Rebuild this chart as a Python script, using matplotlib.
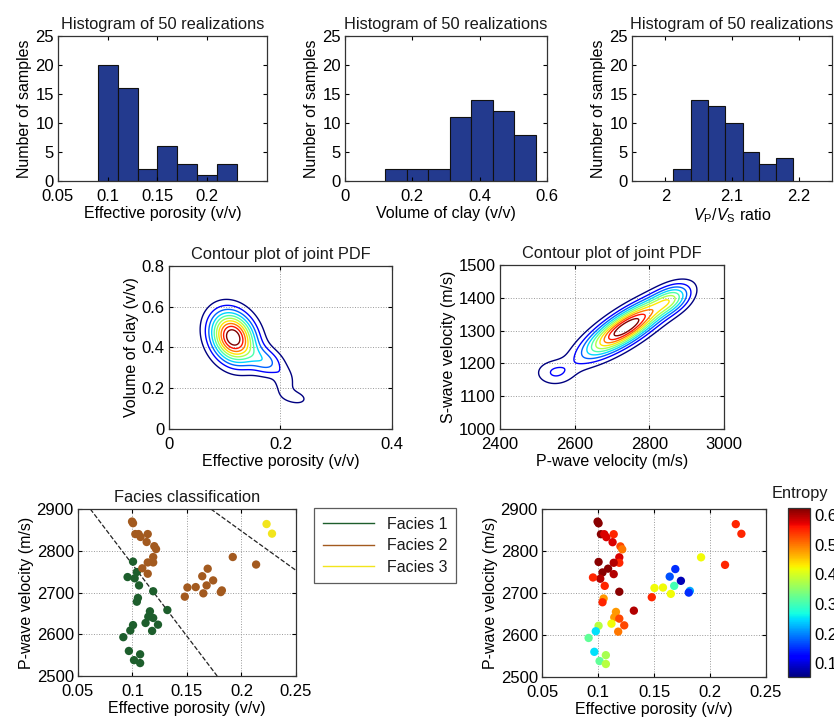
"""
Realization histograms, joint PDF contours and facies classification panels.
"""

import numpy as np
import matplotlib
matplotlib.use('Agg')
import matplotlib.pyplot as plt
import matplotlib.ticker as mticker
from matplotlib.lines import Line2D

plt.rcParams['font.family'] = ['Liberation Sans', 'DejaVu Sans']
plt.rcParams['font.size'] = 11
plt.rcParams['mathtext.fontset'] = 'custom'
plt.rcParams['mathtext.rm'] = 'Liberation Sans'
plt.rcParams['mathtext.it'] = 'Liberation Sans:italic'
plt.rcParams['axes.linewidth'] = 0.9
plt.rcParams['axes.edgecolor'] = '#333333'
plt.rcParams['xtick.direction'] = 'in'
plt.rcParams['ytick.direction'] = 'in'
plt.rcParams['xtick.top'] = True
plt.rcParams['ytick.right'] = True
plt.rcParams['xtick.major.size'] = 3
plt.rcParams['ytick.major.size'] = 3
plt.rcParams['xtick.major.pad'] = 5.5
plt.rcParams['ytick.major.pad'] = 3
plt.rcParams['xtick.labelsize'] = 12
plt.rcParams['ytick.labelsize'] = 12
plt.rcParams['text.color'] = '#1a1a1a'

# ---- histogram data (bin edges and counts)
por_edges = [0.09, 0.11, 0.13, 0.15, 0.17, 0.19, 0.21, 0.23]
por_counts = [20, 16, 2, 6, 3, 1, 3]
clay_edges = [0.119, 0.183, 0.247, 0.311, 0.375, 0.439, 0.503, 0.567]
clay_counts = [2, 2, 2, 11, 14, 12, 8]
vpvs_edges = [2.011, 2.038, 2.064, 2.090, 2.116, 2.141, 2.166, 2.192]
vpvs_counts = [2, 14, 13, 10, 5, 3, 4]

# ---- joint PDF described as gaussian components: (mean x, mean y, sd x, sd y, rho, weight)
pdf1_mx = [0.115, 0.175, 0.208, 0.226]
pdf1_my = [0.450, 0.330, 0.225, 0.155]
pdf1_sx = [0.027, 0.022, 0.012, 0.016]
pdf1_sy = [0.085, 0.050, 0.045, 0.025]
pdf1_rho = [-0.2, -0.3, 0.0, -0.3]
pdf1_w = [1.0, 0.28, 0.15, 0.15]

pdf2_mx = [2738, 2860, 2545]
pdf2_my = [1310, 1395, 1172]
pdf2_sx = [74, 35, 36]
pdf2_sy = [59, 31, 27]
pdf2_rho = [0.81, 0.42, 0.0]
pdf2_w = [1.0, 0.35, 0.165]

# ---- classification scatter (50 samples)
porosity = [0.0996, 0.1005, 0.1026, 0.1056, 0.1074, 0.1140, 0.1130, 0.1200, 0.1216, 0.1190,
            0.1190, 0.1005, 0.1140, 0.1090, 0.1040, 0.1140, 0.1020, 0.0955, 0.1060, 0.1190,
            0.1050, 0.1040, 0.1320, 0.1160, 0.1145, 0.1190, 0.1120, 0.1234, 0.1005, 0.0980,
            0.1180, 0.0916, 0.0967, 0.1070, 0.1014, 0.1070, 0.1480, 0.1504, 0.1580, 0.1640,
            0.1690, 0.1680, 0.1650, 0.1740, 0.1820, 0.1810, 0.1920, 0.2134, 0.2230, 0.2280]
vp = [2870, 2866, 2840, 2840, 2833, 2840, 2821, 2811, 2804, 2785,
      2772, 2774, 2772, 2758, 2749, 2745, 2734, 2737, 2717, 2703,
      2687, 2678, 2658, 2655, 2642, 2639, 2627, 2623, 2622, 2609,
      2608, 2593, 2560, 2552, 2538, 2531, 2690, 2712, 2713, 2739,
      2757, 2717, 2698, 2729, 2705, 2701, 2785, 2767, 2864, 2841]
facies = [2, 2, 2, 2, 2, 2, 2, 2, 2, 2,
          2, 1, 2, 2, 1, 2, 1, 1, 1, 1,
          1, 1, 1, 1, 1, 1, 1, 1, 1, 1,
          1, 1, 1, 1, 1, 1, 2, 2, 2, 2,
          2, 2, 2, 2, 2, 2, 2, 2, 3, 3]
entropy = [0.62, 0.62, 0.62, 0.58, 0.58, 0.55, 0.58, 0.53, 0.50, 0.58,
           0.55, 0.62, 0.60, 0.62, 0.62, 0.60, 0.60, 0.55, 0.55, 0.62,
           0.48, 0.55, 0.60, 0.48, 0.48, 0.53, 0.42, 0.53, 0.38, 0.25,
           0.50, 0.32, 0.25, 0.37, 0.32, 0.38, 0.55, 0.42, 0.42, 0.17,
           0.15, 0.30, 0.42, 0.08, 0.22, 0.15, 0.42, 0.55, 0.55, 0.55]

# facies boundaries (dashed)
bound1_x = [0.0613, 0.1777]
bound1_y = [2900, 2500]
bound2_x = [0.1719, 0.25]
bound2_y = [2900, 2753]

facies_names = ['Facies 1', 'Facies 2', 'Facies 3']
facies_colors = ['#1d5e2c', '#a35a1f', '#f2e51c']

bar_color = '#233a8e'
fmt = mticker.FormatStrFormatter('%g')


def mixture(X, Y, mx, my, sx, sy, rho, w):
    Z = np.zeros_like(X)
    for i in range(len(mx)):
        dx = (X - mx[i]) / sx[i]
        dy = (Y - my[i]) / sy[i]
        r = rho[i]
        q = (dx ** 2 - 2 * r * dx * dy + dy ** 2) / (1 - r ** 2)
        Z += w[i] * np.exp(-0.5 * q)
    return Z


fig = plt.figure(figsize=(8.34, 7.22), dpi=100)

# ---- top row: histograms
hist_info = [
    (por_edges, por_counts, [0.0695, 0.7493, 0.2506, 0.2008], (0.05, 0.26), [0.05, 0.1, 0.15, 0.2],
     'Effective porosity (v/v)'),
    (clay_edges, clay_counts, [0.4137, 0.7493, 0.2422, 0.2008], (0, 0.6), [0, 0.2, 0.4, 0.6],
     'Volume of clay (v/v)'),
    (vpvs_edges, vpvs_counts, [0.7578, 0.7493, 0.2398, 0.2008], (1.95, 2.25), [2, 2.1, 2.2],
     r'$V_{\rm P}/V_{\rm S}$ ratio'),
]
for edges, counts, pos, xlim, xticks, xlabel in hist_info:
    ax = fig.add_axes(pos)
    ax.bar(edges[:-1], counts, width=np.diff(edges), align='edge',
           color=bar_color, edgecolor='#111111', linewidth=0.8)
    ax.set_xlim(xlim)
    ax.set_ylim(0, 25)
    ax.set_xticks(xticks)
    ax.set_yticks([0, 5, 10, 15, 20, 25])
    ax.xaxis.set_major_formatter(fmt)
    ax.set_title('Histogram of 50 realizations', fontsize=11.8, pad=5)
    ax.set_xlabel(xlabel, fontsize=11.5, labelpad=2)
    ax.set_ylabel('Number of samples', fontsize=11.5, labelpad=2)

# ---- middle row: joint pdf contours
x1 = np.linspace(0, 0.4, 300)
y1 = np.linspace(0, 0.8, 300)
X1, Y1 = np.meshgrid(x1, y1)
Z1 = mixture(X1, Y1, pdf1_mx, pdf1_my, pdf1_sx, pdf1_sy, pdf1_rho, pdf1_w)

x2 = np.linspace(2400, 3000, 300)
y2 = np.linspace(1000, 1500, 300)
X2, Y2 = np.meshgrid(x2, y2)
Z2 = mixture(X2, Y2, pdf2_mx, pdf2_my, pdf2_sx, pdf2_sy, pdf2_rho, pdf2_w)

contour_info = [
    (X1, Y1, Z1, [0.2026, 0.4058, 0.2674, 0.2258], (0, 0.4), (0, 0.8), [0, 0.2, 0.4],
     [0, 0.2, 0.4, 0.6, 0.8], 'Effective porosity (v/v)', 'Volume of clay (v/v)'),
    (X2, Y2, Z2, [0.5995, 0.4058, 0.2686, 0.2271], (2400, 3000), (1000, 1500), [2400, 2600, 2800, 3000],
     [1000, 1100, 1200, 1300, 1400, 1500], 'P-wave velocity (m/s)', 'S-wave velocity (m/s)'),
]
for X, Y, Z, pos, xlim, ylim, xticks, yticks, xlabel, ylabel in contour_info:
    ax = fig.add_axes(pos)
    levels = np.linspace(0, Z.max(), 12)[1:-1]
    ax.contour(X, Y, Z, levels=levels, cmap='jet', linewidths=1.0)
    ax.set_xlim(xlim)
    ax.set_ylim(ylim)
    ax.set_xticks(xticks)
    ax.set_yticks(yticks)
    ax.xaxis.set_major_formatter(fmt)
    ax.yaxis.set_major_formatter(fmt)
    ax.grid(True, linestyle=':', color='#999999', linewidth=0.7)
    ax.set_title('Contour plot of joint PDF', fontsize=11.8, pad=5)
    ax.set_xlabel(xlabel, fontsize=11.5, labelpad=2)
    ax.set_ylabel(ylabel, fontsize=11.5, labelpad=2)

# ---- bottom row: facies classification and entropy
porosity = np.array(porosity)
vp = np.array(vp)
facies = np.array(facies)

ax5 = fig.add_axes([0.0935, 0.0637, 0.2614, 0.2313])
for k, name in enumerate(facies_names):
    sel = facies == k + 1
    ax5.scatter(porosity[sel], vp[sel], s=36, color=facies_colors[k], edgecolors='none', zorder=3)
ax5.plot(bound1_x, bound1_y, linestyle='--', color='#222222', linewidth=0.9, zorder=2)
ax5.plot(bound2_x, bound2_y, linestyle='--', color='#222222', linewidth=0.9, zorder=2)
ax5.set_title('Facies classification', fontsize=11.8, pad=5)

ax6 = fig.add_axes([0.6499, 0.0623, 0.2686, 0.2327])
sc = ax6.scatter(porosity, vp, c=entropy, cmap='jet', vmin=0.053, vmax=0.625, s=36,
                 edgecolors='none', zorder=3)

for ax in (ax5, ax6):
    ax.set_xlim(0.05, 0.25)
    ax.set_ylim(2500, 2900)
    ax.set_xticks([0.05, 0.1, 0.15, 0.2, 0.25])
    ax.set_yticks([2500, 2600, 2700, 2800, 2900])
    ax.xaxis.set_major_formatter(fmt)
    ax.grid(True, linestyle=':', color='#999999', linewidth=0.7)
    ax.set_xlabel('Effective porosity (v/v)', fontsize=11.5, labelpad=2)
    ax.set_ylabel('P-wave velocity (m/s)', fontsize=11.5, labelpad=2)

handles = [Line2D([0], [0], color=c, linewidth=1.0) for c in facies_colors]
leg = fig.legend(handles, facies_names, loc='upper left', bbox_to_anchor=(0.3765, 0.2964),
                 frameon=True, fancybox=False, edgecolor='#333333', fontsize=11.5,
                 handlelength=3.2, borderpad=0.55, labelspacing=0.4, borderaxespad=0)
leg.get_frame().set_linewidth(0.9)

cax = fig.add_axes([0.9448, 0.0623, 0.0264, 0.2341])
cb = fig.colorbar(sc, cax=cax, ticks=[0.1, 0.2, 0.3, 0.4, 0.5, 0.6])
cb.ax.yaxis.set_major_formatter(fmt)
cb.ax.tick_params(length=0, labelsize=12)
cb.outline.set_linewidth(0.9)
fig.text(0.959, 0.316, 'Entropy', ha='center', va='center', fontsize=11.8)

fig.savefig('out.png', dpi=100)
